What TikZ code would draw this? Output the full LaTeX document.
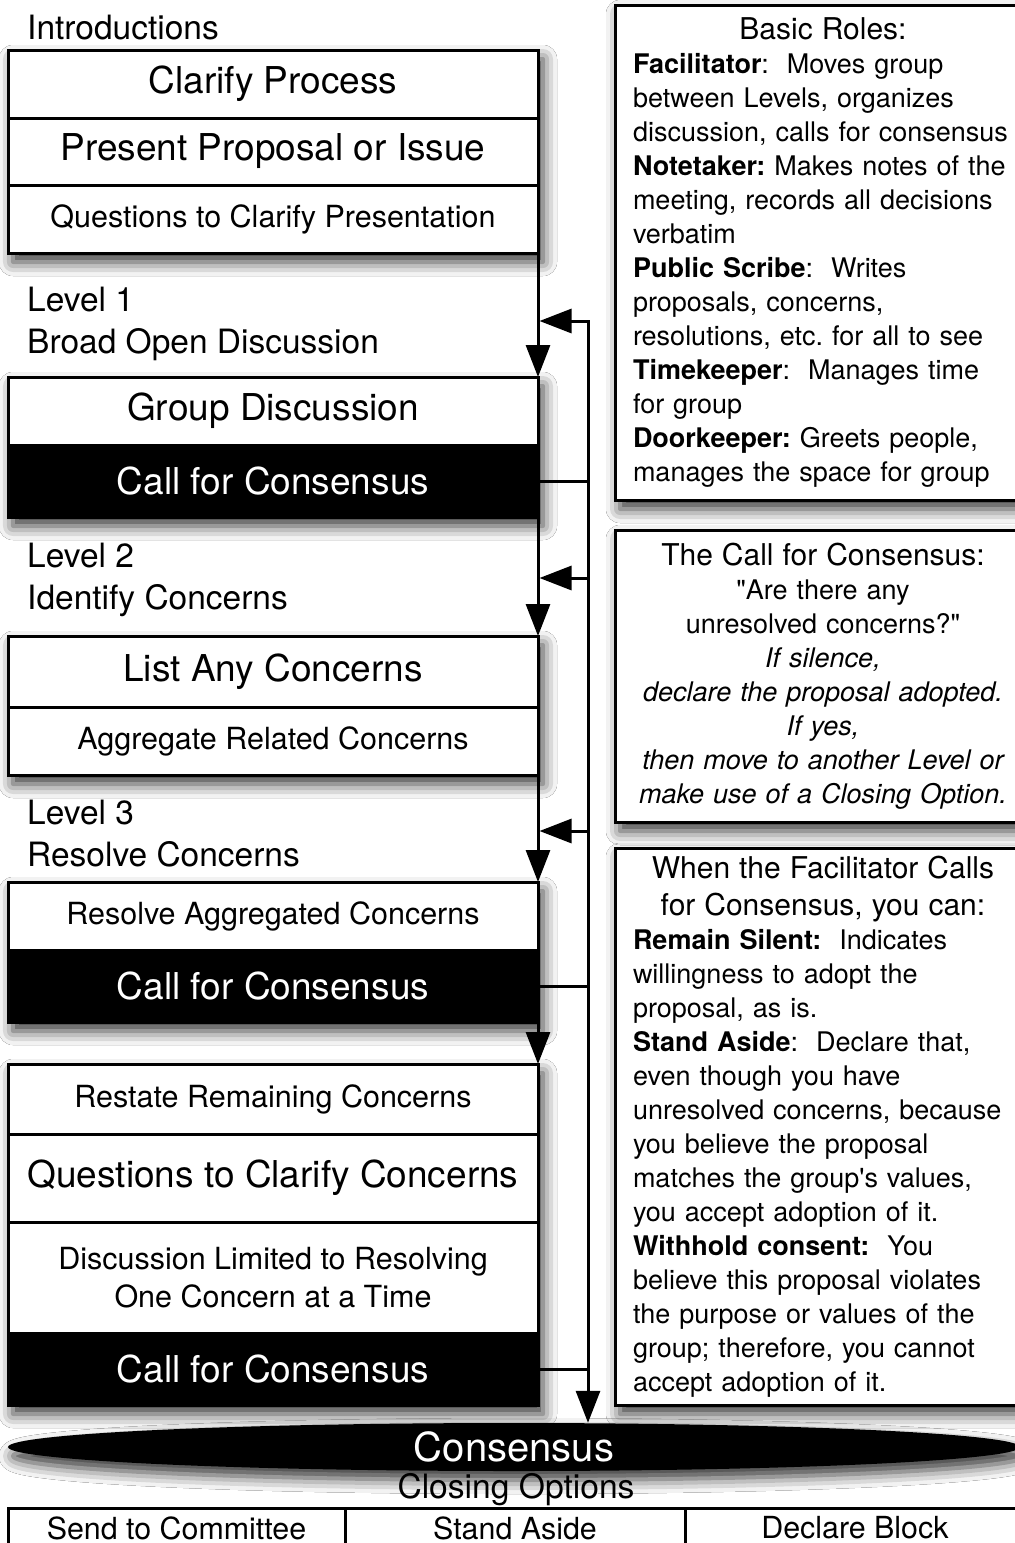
\documentclass[tikz,border=0pt]{standalone}
\usepackage{fontspec}
\setmainfont{TeX Gyre Heros}
\usetikzlibrary{positioning,calc,arrows.meta,shapes.geometric,backgrounds,shadows.blur}
\tikzset{
	softshadow/.style={blur shadow={shadow xshift=5pt, shadow yshift=-9pt, shadow blur radius=14pt, shadow opacity=80}},
	rowbox/.style={draw, line width=3pt, fill=white, minimum width=530pt, outer sep=0pt, inner sep=2pt, align=center},
	rowbig/.style={rowbox, font=\fontsize{37}{44}\selectfont},
	rowmid/.style={rowbox, font=\fontsize{30.5}{38}\selectfont},
	callrow/.style={rowbig, fill=black, text=white, minimum height=72pt},
	level/.style={anchor=west, align=left, inner sep=0pt, font=\fontsize{33.5}{42}\selectfont},
	infobox/.style={draw, line width=3pt, fill=white, anchor=north west, outer sep=0pt, inner xsep=18pt, inner ysep=0pt, text width=380pt, font=\fontsize{27}{34}\selectfont\frenchspacing, softshadow},
	optbox/.style={draw, line width=3pt, anchor=north west, outer sep=0pt, minimum height=40pt, font=\fontsize{30.4}{36}\selectfont},
	flow/.style={line width=3pt, line cap=rect, -{Triangle[width=24pt, length=32pt]}},
	wire/.style={line width=3pt, line cap=rect},
}
\newcommand{\boxhead}[2][34]{{\centering\fontsize{30}{#1}\selectfont #2\par}}

\begin{document}
\begin{tikzpicture}[x=1pt, y=-1pt]
	\useasboundingbox (0,0) rectangle (1015,1543);

	% left column
	\node[level] (intro) at (27,28) {Introductions};
	\node[rowbig, anchor=north west, minimum height=68pt] (clarify) at (8,50) {Clarify Process};
	\node[rowbig, below=0pt of clarify, minimum height=67pt] (present) {Present Proposal or Issue};
	\node[rowmid, below=0pt of present, minimum height=68pt] (questions) {Questions to Clarify Presentation};

	\node[level] (lvl1) at (27,324) {Level 1\\Broad Open Discussion};
	\node[rowbig, anchor=north west, minimum height=68pt] (groupdisc) at (8,377) {Group Discussion};
	\node[callrow, below=0pt of groupdisc] (call1) {Call for Consensus};

	\node[level] (lvl2) at (27,580) {Level 2\\Identify Concerns};
	\node[rowbig, anchor=north west, minimum height=71pt] (listc) at (8,636) {List Any Concerns};
	\node[rowmid, below=0pt of listc, minimum height=68pt] (aggregate) {Aggregate Related Concerns};

	\node[level] (lvl3) at (27,834) {Level 3\\Resolve Concerns};
	\node[rowmid, anchor=north west, minimum height=68pt] (resolve) at (8,882) {Resolve Aggregated Concerns};
	\node[callrow, below=0pt of resolve] (call2) {Call for Consensus};

	\node[rowmid, anchor=north west, minimum height=70pt] (restate) at (8,1064) {Restate Remaining Concerns};
	\node[rowbig, below=0pt of restate, minimum height=88pt] (clarifyc) {Questions to Clarify Concerns};
	\node[rowmid, below=0pt of clarifyc, minimum height=111pt] (discuss) {Discussion Limited to Resolving\\One Concern at a Time};
	\node[callrow, below=0pt of discuss] (call3) {Call for Consensus};

	% right column
	\node[infobox, minimum height=495pt, align=left] (roles) at (615,5) {%
		\boxhead{Basic Roles:}
		\textbf{Facilitator}:~ Moves group\\
		between Levels, organizes\\
		discussion, calls for consensus\\
		\textbf{Notetaker:} Makes notes of the\\
		meeting, records all decisions\\
		verbatim\\
		\textbf{Public Scribe}:~ Writes\\
		proposals, concerns,\\
		resolutions, etc. for all to see\\
		\textbf{Timekeeper}:~ Manages time\\
		for group\\
		\textbf{Doorkeeper:} Greets people,\\
		manages the space for group};
	\node[infobox, minimum height=292pt, align=center] (callinfo) at (615,530) {%
		{\fontsize{30}{34}\selectfont The Call for Consensus:}\\
		\textquotedbl Are there any\\
		unresolved concerns?\textquotedbl\\
		\itshape If silence,\\
		declare the proposal adopted.\\
		If yes,\\
		then move to another Level or\\
		make use of a Closing Option.};
	\node[infobox, minimum height=557pt, align=left] (youcan) at (615,848) {%
		\boxhead[37]{When the Facilitator Calls\\for Consensus, you can:}
		\textbf{Remain Silent:}~ Indicates\\
		willingness to adopt the\\
		proposal, as is.\\
		\textbf{Stand Aside}:~ Declare that,\\
		even though you have\\
		unresolved concerns, because\\
		you believe the proposal\\
		matches the group\textquotesingle s values,\\
		you accept adoption of it.\\
		\textbf{Withhold consent:}~ You\\
		believe this proposal violates\\
		the purpose or values of the\\
		group; therefore, you cannot\\
		accept adoption of it.};

	% bottom
	\node[ellipse, fill=black, text=white, minimum width=1012pt, minimum height=48pt, inner sep=0pt, softshadow, font=\fontsize{40}{48}\selectfont] (consensus) at (514,1447) {Consensus};
	\node[inner sep=0pt, font=\fontsize{33.6}{40}\selectfont] (closing) at (516,1490) {Closing Options};
	\node[optbox, minimum width=337pt] (committee) at (8,1508) {Send to Committee};
	\node[optbox, minimum width=340pt, right=0pt of committee] (standaside) {Stand Aside};
	\node[optbox, minimum width=340pt, right=0pt of standaside] (block) {Declare Block};

	% connectors
	\coordinate (bus1) at (588,321);
	\coordinate (bus2) at (588,578);
	\coordinate (bus3) at (588,831);

	\draw[flow] (questions.south east) -- (groupdisc.north east);
	\draw[flow] (call1.south east) -- (listc.north east);
	\draw[flow] (aggregate.south east) -- (resolve.north east);
	\draw[flow] (call2.south east) -- (restate.north east);

	\draw[flow] (bus1) -- (bus1 |- consensus.north);
	\draw[flow, shorten >=1.5pt] (bus1) -- (bus1 -| questions.east);
	\draw[flow, shorten >=1.5pt] (bus2) -- (bus2 -| questions.east);
	\draw[flow, shorten >=1.5pt] (bus3) -- (bus3 -| questions.east);
	\draw[wire] (call1.east) -- (call1.east -| bus1);
	\draw[wire] (call2.east) -- (call2.east -| bus1);
	\draw[wire] (call3.east) -- (call3.east -| bus1);

	\begin{scope}[on background layer]
		\fill[white] (0,0) rectangle (1015,1543);
		\path[softshadow] (clarify.north west) rectangle (questions.south east);
		\path[softshadow] (groupdisc.north west) rectangle (call1.south east);
		\path[softshadow] (listc.north west) rectangle (aggregate.south east);
		\path[softshadow] (resolve.north west) rectangle (call2.south east);
		\path[softshadow] (restate.north west) rectangle (call3.south east);
	\end{scope}
\end{tikzpicture}
\end{document}
